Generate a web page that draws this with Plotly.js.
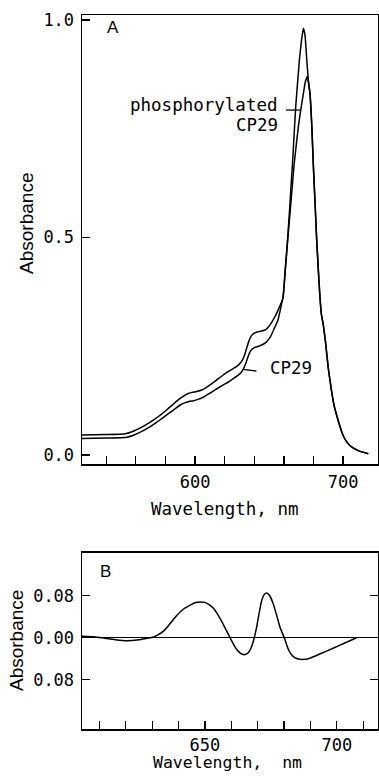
<!DOCTYPE html>
<html>
<head>
<meta charset="utf-8">
<script src="https://cdn.plot.ly/plotly-3.0.1.min.js"></script>
<style>html,body{margin:0;padding:0;background:#fff;}#chart{width:379px;height:777px;}</style>
</head>
<body>
<div id="chart"></div>
<script>
// Panel A: absorption spectra (wavelength nm, absorbance)
const phosWavelength = [523, 540, 553, 557, 561, 565, 569, 573, 577, 581, 585, 589, 592, 595, 598, 601, 604, 607, 610, 613, 616, 619, 622, 625, 628, 630, 632, 633.5, 635, 636.5, 638, 640, 642, 645, 648, 651, 654, 657, 659.5, 661, 663, 665, 667, 669.8, 671.4, 673.2, 674.5, 675.9, 677.7, 678.9, 680, 681.2, 682.2, 683.3, 684.3, 685.3, 686.7, 688, 690, 692, 694, 697, 700, 703, 706, 711, 717];
const phosAbsorbance = [0.046, 0.047, 0.049, 0.053, 0.059, 0.066, 0.074, 0.083, 0.093, 0.104, 0.116, 0.128, 0.135, 0.141, 0.144, 0.146, 0.149, 0.154, 0.161, 0.168, 0.176, 0.184, 0.191, 0.197, 0.203, 0.209, 0.218, 0.230, 0.247, 0.263, 0.274, 0.280, 0.283, 0.285, 0.289, 0.301, 0.318, 0.340, 0.362, 0.43, 0.51, 0.59, 0.67, 0.755, 0.793, 0.831, 0.858, 0.870, 0.83, 0.755, 0.66, 0.57, 0.494, 0.425, 0.368, 0.325, 0.298, 0.264, 0.200, 0.152, 0.113, 0.076, 0.045, 0.028, 0.018, 0.009, 0.003];

const cp29Wavelength = [523, 540, 554, 558, 562, 566, 570, 574, 578, 582, 586, 590, 593, 596, 599, 602, 605, 608, 611, 614, 617, 620, 623, 626, 629, 631, 632.5, 634, 635.5, 637, 638.5, 640, 642, 645, 648, 651, 653, 656, 659.5, 662, 664, 666, 668, 670.5, 672, 673.2, 674.3, 675.5, 676.6, 677.7, 678.9, 680, 681.2, 682.2, 683.3, 684.3, 685.3, 686.7, 688, 690, 692, 694, 697, 700, 703, 706, 711, 717];
const cp29Absorbance = [0.038, 0.039, 0.041, 0.045, 0.051, 0.058, 0.066, 0.075, 0.085, 0.095, 0.105, 0.115, 0.120, 0.123, 0.125, 0.128, 0.132, 0.138, 0.144, 0.151, 0.157, 0.163, 0.169, 0.176, 0.183, 0.189, 0.197, 0.208, 0.223, 0.236, 0.243, 0.247, 0.249, 0.253, 0.259, 0.272, 0.287, 0.31, 0.365, 0.47, 0.57, 0.68, 0.80, 0.908, 0.955, 0.981, 0.965, 0.908, 0.86, 0.83, 0.755, 0.66, 0.57, 0.494, 0.425, 0.368, 0.325, 0.298, 0.264, 0.200, 0.152, 0.113, 0.076, 0.045, 0.028, 0.018, 0.009, 0.003];

// Panel B: difference spectrum
const diffWavelength = [603.4, 608, 612, 616, 620.4, 625, 628, 630.3, 632, 634.2, 636.5, 639.3, 642, 644.4, 646.5, 648.1, 650, 651.8, 653.2, 655, 657, 658.5, 659.5, 661, 662.5, 664, 665.2, 666.5, 667.6, 668.5, 669.6, 670.6, 671.5, 672.5, 673.4, 674.5, 675.9, 677.2, 678.4, 679.4, 680.3, 681.3, 682.2, 683.5, 685, 686, 688, 689.8, 694, 698.6, 703, 707.5];
const diffAbsorbance = [0.003, 0.002, -0.001, -0.004, -0.006, -0.004, -0.001, 0.001, 0.005, 0.012, 0.025, 0.042, 0.055, 0.062, 0.067, 0.068, 0.067, 0.062, 0.056, 0.043, 0.025, 0.010, 0.0, -0.014, -0.025, -0.031, -0.032, -0.028, -0.018, -0.004, 0.020, 0.048, 0.070, 0.082, 0.085, 0.080, 0.064, 0.042, 0.021, 0.008, -0.003, -0.018, -0.028, -0.036, -0.040, -0.041, -0.041, -0.039, -0.030, -0.020, -0.010, 0.0];

// Tick labels
const topXTickVals = [600, 700];
const topXTickText = ['600', '700'];
const topYTickVals = [0, 0.5, 1.0];
const topYTickText = ['0.0', '0.5', '1.0'];
const botXTickVals = [650, 700];
const botXTickText = ['650', '700'];
const botYTickVals = [-0.08, 0, 0.08];
const botYTickText = ['0.08', '0.00', '0.08'];

const MONO = 'DejaVu Sans Mono, Liberation Mono, monospace';
const SANS = 'Liberation Sans, Arial, sans-serif';
const topLine = {color: '#000', width: 1.5, shape: 'spline', smoothing: 0.3};
const botLine = {color: '#000', width: 1.5, shape: 'spline', smoothing: 0.6};

const traces = [
  {x: phosWavelength, y: phosAbsorbance, type: 'scatter', mode: 'lines', name: 'phosphorylated CP29', line: topLine, xaxis: 'x', yaxis: 'y'},
  {x: cp29Wavelength, y: cp29Absorbance, type: 'scatter', mode: 'lines', name: 'CP29', line: topLine, xaxis: 'x', yaxis: 'y'},
  {x: diffWavelength, y: diffAbsorbance, type: 'scatter', mode: 'lines', name: 'difference', line: botLine, xaxis: 'x2', yaxis: 'y2'}
];

const axisCommon = {
  showline: true, linecolor: '#000', linewidth: 1.5, mirror: true,
  showgrid: false, zeroline: false, ticks: 'inside', ticklen: 8, tickwidth: 1.3, tickcolor: '#000',
  tickfont: {family: MONO, size: 17, color: '#000'}, fixedrange: true
};

const layout = {
  width: 379, height: 777,
  margin: {l: 82, r: 1, t: 15, b: 48},
  paper_bgcolor: '#fff', plot_bgcolor: '#fff',
  showlegend: false,
  xaxis: Object.assign({}, axisCommon, {
    domain: [0, 1], anchor: 'y', range: [523.65, 723.6],
    tickmode: 'array', tickvals: topXTickVals, ticktext: topXTickText,
    minor: {tickvals: [540, 560, 580, 620, 640, 660, 680], ticks: 'inside', ticklen: 8, tickwidth: 1.3, tickcolor: '#000'},
    ticklabelstandoff: 2
  }),
  yaxis: Object.assign({}, axisCommon, {
    domain: [0.3711, 1], anchor: 'x', range: [-0.0207, 1.0115],
    tickmode: 'array', tickvals: topYTickVals, ticktext: topYTickText,
    ticklabelstandoff: 3
  }),
  xaxis2: Object.assign({}, axisCommon, {
    domain: [0, 1], anchor: 'y2', range: [603.4, 715.6],
    tickmode: 'array', tickvals: botXTickVals, ticktext: botXTickText,
    minor: {tickvals: [610, 620, 630, 640, 660, 670, 680, 690, 710], ticks: 'inside', ticklen: 8, tickwidth: 1.3, tickcolor: '#000'},
    ticklabelstandoff: 0
  }),
  yaxis2: Object.assign({}, axisCommon, {
    domain: [0, 0.2465], anchor: 'x2', range: [-0.1733, 0.1608],
    tickmode: 'array', tickvals: botYTickVals, ticktext: botYTickText,
    mirror: 'ticks', zeroline: true, zerolinecolor: '#000', zerolinewidth: 1.5,
    ticklabelstandoff: 3
  }),
  shapes: [
    {type: 'line', xref: 'x', yref: 'y', x0: 661.5, x1: 671, y0: 0.793, y1: 0.793, line: {color: '#000', width: 1.3}},
    {type: 'line', xref: 'x', yref: 'y', x0: 632.6, x1: 641.5, y0: 0.197, y1: 0.193, line: {color: '#000', width: 1.3}}
  ],
  annotations: [
    {text: 'A', xref: 'x', yref: 'y', x: 544.6, y: 0.982, showarrow: false, xanchor: 'center', yanchor: 'middle', font: {family: SANS, size: 17, color: '#000'}},
    {text: 'phosphorylated', xref: 'x', yref: 'y', x: 657.4, y: 0.805, showarrow: false, xanchor: 'right', yanchor: 'middle', font: {family: MONO, size: 17.5, color: '#000'}},
    {text: 'CP29', xref: 'x', yref: 'y', x: 657.4, y: 0.759, showarrow: false, xanchor: 'right', yanchor: 'middle', font: {family: MONO, size: 17.5, color: '#000'}},
    {text: 'CP29', xref: 'x', yref: 'y', x: 649.0, y: 0.2, showarrow: false, xanchor: 'left', yanchor: 'middle', font: {family: MONO, size: 17.5, color: '#000'}},
    {text: 'B', xref: 'x2', yref: 'y2', x: 612.2, y: 0.125, showarrow: false, xanchor: 'center', yanchor: 'middle', font: {family: SANS, size: 17, color: '#000'}},
    {text: 'Wavelength, nm', xref: 'paper', yref: 'paper', x: 0.483, y: 0.308, showarrow: false, xanchor: 'center', yanchor: 'middle', font: {family: MONO, size: 17.5, color: '#000'}},
    {text: 'Wavelength,  nm', xref: 'paper', yref: 'paper', x: 0.493, y: -0.0475, showarrow: false, xanchor: 'center', yanchor: 'middle', font: {family: MONO, size: 16.5, color: '#000'}},
    {text: 'Absorbance', xref: 'paper', yref: 'paper', x: -0.186, y: 0.7087, textangle: -90, showarrow: false, xanchor: 'center', yanchor: 'middle', font: {family: SANS, size: 19, color: '#000'}},
    {text: 'Absorbance', xref: 'paper', yref: 'paper', x: -0.223, y: 0.1246, textangle: -90, showarrow: false, xanchor: 'center', yanchor: 'middle', font: {family: SANS, size: 19, color: '#000'}}
  ]
};

Plotly.newPlot('chart', traces, layout, {staticPlot: true, displayModeBar: false});
</script>
</body>
</html>
